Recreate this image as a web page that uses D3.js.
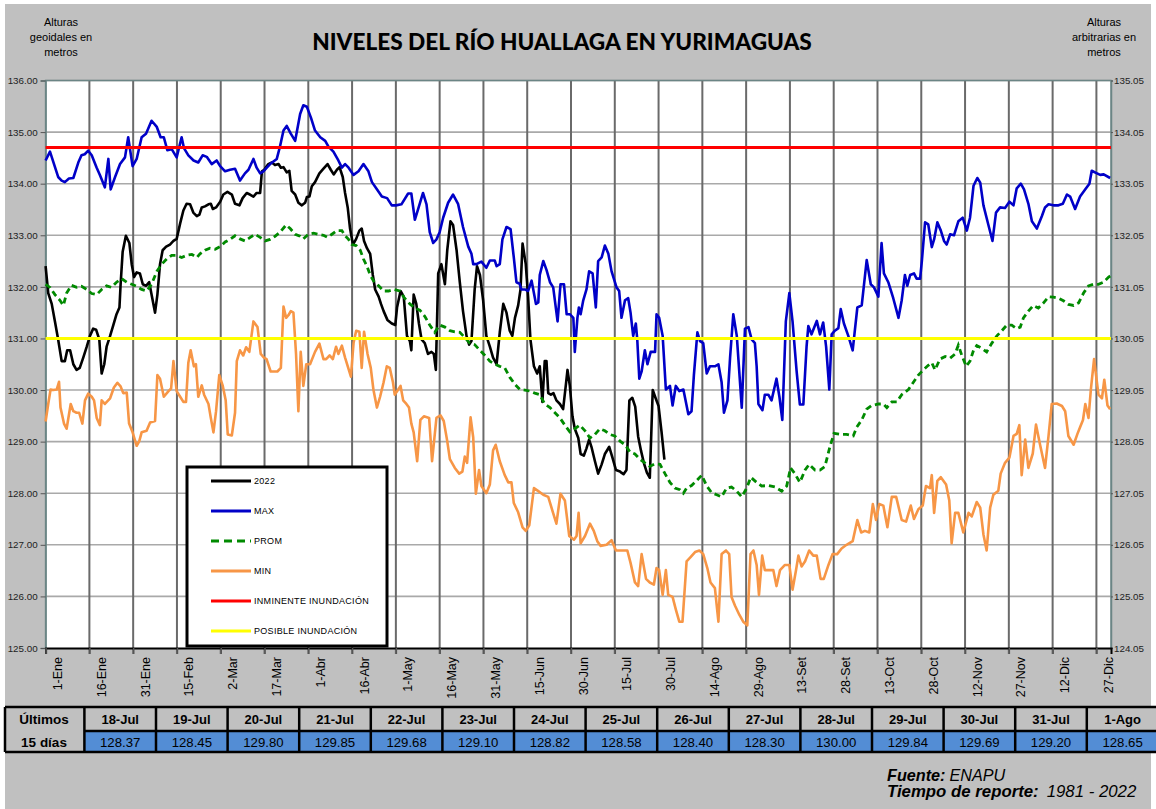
<!DOCTYPE html>
<html><head><meta charset="utf-8">
<script src="https://cdn.jsdelivr.net/npm/d3@7"></script>
<style>
html,body{margin:0;padding:0;background:#fff;}
svg text{font-family:"Liberation Sans",Arial,sans-serif;}
</style></head>
<body>
<script>
// ---------------- DATA ----------------
const tickLabels = ["1-Ene","16-Ene","31-Ene","15-Feb","2-Mar","17-Mar","1-Abr","16-Abr","1-May","16-May","31-May","15-Jun","30-Jun","15-Jul","30-Jul","14-Ago","29-Ago","13-Set","28-Set","13-Oct","28-Oct","12-Nov","27-Nov","12-Dic","27-Dic"];
const tickDays = tickLabels.map((d,i)=>i*15);
const yTicksLeft = [125,126,127,128,129,130,131,132,133,134,135,136];
const yTicksRight = [124.05,125.05,126.05,127.05,128.05,129.05,130.05,131.05,132.05,133.05,134.05,135.05];
const inminente = 134.70;
const posible = 131.00;

const lastDates = ["18-Jul","19-Jul","20-Jul","21-Jul","22-Jul","23-Jul","24-Jul","25-Jul","26-Jul","27-Jul","28-Jul","29-Jul","30-Jul","31-Jul","1-Ago"];
const lastVals = [128.37,128.45,129.80,129.85,129.68,129.10,128.82,128.58,128.40,128.30,130.00,129.84,129.69,129.20,128.65];
const lastStartDay = 198;

// [day of year, level]
const obs2022 = [[0,132.4],[0.9,131.88],[2.1,131.67],[3.2,131.33],[4.3,130.98],[5.5,130.56],[6.6,130.56],[7.4,130.77],[8.4,130.77],[9.5,130.5],[10.6,130.39],[11.7,130.43],[12.9,130.63],[14.1,130.84],[15.2,131.05],[16.3,131.19],[17.3,131.17],[18.4,130.98],[19.2,130.32],[20.1,130.5],[20.9,130.84],[22.1,131.05],[23.2,131.26],[24.3,131.47],[25.3,131.6],[25.7,132.05],[26.4,132.68],[27.5,132.99],[28.7,132.85],[29.5,132.44],[30.3,132.19],[31.2,132.28],[32.3,132.26],[33.3,132.05],[34.4,132.02],[35.5,132.09],[36.3,131.85],[37.5,131.5],[38.3,131.85],[39.2,132.44],[40.1,132.71],[41.3,132.78],[42.6,132.82],[43.8,132.89],[44.9,132.93],[46.1,133.23],[47.2,133.48],[48.3,133.61],[49.5,133.6],[50.6,133.44],[51.8,133.37],[52.7,133.4],[53.5,133.54],[54.6,133.56],[55.8,133.6],[56.6,133.61],[57.3,133.51],[58.4,133.54],[59.8,133.65],[60.9,133.79],[62.3,133.84],[63.8,133.79],[64.9,133.61],[66.4,133.58],[67.5,133.72],[68.9,133.82],[70,133.79],[71.2,133.75],[72.3,133.82],[73.5,133.82],[74.1,134.24],[74.9,134.27],[76.3,134.38],[77.5,134.41],[78.6,134.36],[79.8,134.38],[80.6,134.31],[81.5,134.32],[82.6,134.22],[83.5,134.25],[84.3,133.86],[85.5,133.79],[86.6,133.63],[87.8,133.58],[88.9,133.63],[89.5,133.74],[90.4,133.75],[91.2,133.95],[92.3,134.03],[93.8,134.2],[95.2,134.29],[96.6,134.38],[97.7,134.27],[98.7,134.18],[99.8,134.27],[100.7,134.32],[101.8,134.13],[102.6,133.82],[103.5,133.54],[104.3,133.13],[105.3,132.82],[106.4,132.93],[107.5,133.09],[108.3,133.13],[109.1,132.89],[110.1,132.75],[111.2,132.64],[112.1,132.23],[112.9,131.95],[114.1,131.81],[114.9,131.67],[115.8,131.53],[117.1,131.36],[118.6,131.29],[119.8,131.26],[120.4,131.6],[121.6,131.92],[122.7,131.81],[123.8,131.05],[124.8,130.95],[125.3,130.77],[126.1,131.85],[127,131.67],[127.9,131.29],[128.8,130.98],[129.9,130.91],[131,130.7],[132.2,130.74],[133,130.7],[133.7,130.39],[134.5,132.26],[135.6,132.44],[136.8,132.05],[137.6,132.71],[138.7,133.27],[139.6,133.2],[140.8,132.71],[141.9,132.09],[143,131.53],[144.2,131.05],[145.1,130.88],[145.9,130.95],[147,131.95],[147.8,132.4],[148.8,132.23],[149.9,131.74],[151,131.05],[152.2,130.84],[153.3,130.63],[154.5,130.5],[155.6,131.12],[156.8,131.67],[157.9,131.5],[159,131.15],[159.9,131.05],[160.8,131.4],[161.9,131.64],[162.7,131.95],[163.4,132.84],[164.5,132.44],[165.3,131.81],[166.1,130.98],[167.3,130.46],[168.4,130.32],[169.3,130.46],[170.2,129.77],[171,130.56],[171.6,130.56],[172.2,129.94],[173.1,129.91],[174,129.94],[175,129.8],[176.2,129.73],[177.3,129.63],[178.2,130.08],[178.8,130.39],[179.6,130.08],[180.5,129.49],[181.3,129.25],[182.5,129.07],[183.3,128.76],[184.4,128.73],[185.3,128.87],[186.2,129.04],[187,128.9],[188.2,128.62],[189.3,128.38],[190.5,128.56],[191.6,128.76],[193.1,128.9],[194.2,128.69],[195.4,128.45],[196.8,128.42],[197,128.41]];

const maxSeries = [[0,134.45],[1.5,134.62],[4.3,134.13],[5.5,134.06],[6.6,134.03],[8,134.1],[9.5,134.11],[11.2,134.41],[12.3,134.55],[13.4,134.57],[14.6,134.64],[15.8,134.55],[17.5,134.31],[18.6,134.17],[20.3,133.93],[21.5,134.48],[22.3,133.89],[23.8,134.13],[25.5,134.38],[27.2,134.51],[28.3,134.9],[29.8,134.34],[31.2,134.48],[32.9,134.9],[34.4,134.97],[36.3,135.22],[38.1,135.1],[39.4,134.9],[40.5,134.9],[41.7,134.65],[43.2,134.67],[44.9,134.51],[46.6,134.9],[47.4,134.69],[48.9,134.55],[50.7,134.45],[52.3,134.41],[53.8,134.55],[55.2,134.52],[56.9,134.38],[58.6,134.45],[59.8,134.34],[61.5,134.24],[63.2,134.27],[64.9,134.29],[66.6,134.06],[68.3,134.2],[69.5,134.27],[71.2,134.48],[72.3,134.31],[73.5,134.2],[74.6,134.24],[76.9,134.38],[79.2,134.48],[80.3,134.72],[81.5,135.03],[82.6,135.12],[84,134.97],[85.5,134.83],[87.2,135.35],[88.3,135.52],[89.5,135.49],[90.9,135.28],[92.3,135.03],[94.1,134.9],[95.8,134.83],[96.9,134.72],[98.6,134.62],[100.3,134.45],[101.5,134.31],[102.6,134.38],[103.8,134.31],[105.5,134.17],[107.2,134.24],[108.9,134.38],[110.6,134.24],[111.8,134.03],[113.5,133.89],[115.2,133.75],[117,133.72],[118.6,133.58],[120,133.58],[121.9,133.6],[124.2,133.81],[125.3,133.81],[126.5,133.3],[127.6,133.5],[129.3,133.82],[130.5,133.6],[131.6,133.06],[132.8,132.85],[133.9,132.92],[135,133.06],[136.2,133.34],[137.9,133.63],[139.6,133.79],[141.3,133.61],[143,133.16],[144.8,132.78],[145.9,132.64],[146.5,132.44],[147.6,132.44],[149.3,132.49],[151,132.37],[152.2,132.51],[153.9,132.51],[154.5,132.4],[155.6,132.44],[156.5,132.92],[157.9,133.16],[159.3,133.12],[160.4,132.57],[161.3,132.09],[162.4,132.06],[163,131.95],[164.2,131.95],[165.3,131.92],[166.5,132.12],[168,131.67],[168.8,131.7],[169.3,132.23],[170.5,132.5],[171.6,132.33],[172.8,132.09],[173.9,131.99],[175.4,131.33],[176.4,132.05],[177.6,132.05],[178.5,131.47],[179.6,131.47],[180.8,131.4],[181.3,130.74],[182.2,131.4],[182.7,131.6],[183.3,131.47],[184.2,131.74],[185.3,131.95],[186.2,132.3],[187.4,132.26],[188.5,131.6],[189.3,132.5],[190.5,132.57],[191.6,132.8],[192.8,132.64],[193.9,132.3],[195.6,131.99],[196.5,131.92],[197.3,131.4],[198.5,131.74],[199.6,131.78],[200.4,131.5],[201.3,131.05],[202.2,131.29],[202.7,130.98],[203.4,130.22],[204.2,130.36],[205.3,130.77],[206.2,130.5],[207.3,130.74],[208.8,130.74],[209.3,131.47],[210.2,131.4],[211.4,131.05],[212.5,130.01],[213.9,130.08],[214.8,129.7],[215.9,130.08],[217.1,129.98],[218.5,130.01],[220.2,129.53],[221.3,129.59],[222.1,130.29],[223.3,131.12],[224.2,130.95],[225.3,130.91],[226.5,130.32],[227.6,130.46],[229.3,130.46],[230.5,130.5],[231.6,130.15],[232.4,129.56],[233.6,129.8],[234.5,130.63],[235.6,131.47],[236.8,131.05],[238.5,129.66],[239.6,131.19],[240.8,131.22],[241.9,130.98],[243,130.91],[243.6,130.46],[244.2,129.73],[245.6,129.61],[246.4,129.91],[247.6,129.91],[248.7,129.8],[250.4,130.22],[251.4,129.87],[252.4,129.42],[253.6,131.33],[254.8,131.88],[255.9,131.33],[257.3,130.36],[258.4,129.72],[259.6,129.72],[260.7,130.84],[261.3,131.24],[262.4,131.08],[264.2,131.34],[265.3,131.08],[266.4,131.31],[267.4,130.84],[268.5,130.01],[269.3,131.08],[270.4,131.15],[271.6,131.2],[272.4,131.57],[273.5,131.29],[275,131.05],[276.5,130.77],[278.1,131.6],[279.6,131.64],[281.3,132.52],[282.7,132.05],[283.8,131.99],[285.3,131.81],[286.4,132.85],[287.2,132.26],[288.7,132.09],[290.4,131.78],[292.2,131.4],[293.3,131.74],[294.4,132.23],[295.2,132.02],[296.2,132.23],[297.5,132.26],[298.4,132.16],[299.6,132.16],[300.2,132.5],[301.3,133.25],[302.4,133.21],[303.6,132.77],[304.4,132.92],[305.5,133.25],[306.7,133.09],[307.8,132.89],[308.7,132.82],[309.9,133.02],[311.2,133],[312.7,133.27],[314.2,133.34],[315.6,133.09],[316.7,133.34],[317.9,133.96],[319.2,134.11],[320.2,134.02],[321.3,133.58],[323,133.2],[324.4,132.89],[325.6,133.44],[327,133.54],[328.7,133.53],[330.2,133.65],[331.6,133.58],[332.7,133.91],[334.1,134],[335.2,133.89],[336.7,133.61],[337.9,133.27],[339.6,133.13],[341.3,133.37],[342.4,133.54],[343.6,133.6],[345.3,133.58],[347,133.58],[348.5,133.61],[349.9,133.79],[351,133.75],[352.7,133.51],[354.4,133.75],[356.2,133.89],[357.6,134.0],[358.4,134.25],[360.2,134.2],[361.3,134.17],[362.5,134.18],[364.7,134.11]];

const promSeries = [[0,132.05],[1.5,131.99],[3.2,131.85],[4.9,131.74],[6.1,131.64],[7.2,131.88],[8.9,132.03],[10.6,131.99],[12.3,132.01],[14.1,131.95],[15.8,131.87],[17.5,131.85],[19.2,131.95],[20.9,132.02],[22.6,131.99],[24.3,132.09],[26,132.16],[27.8,132.09],[29.5,132.05],[31.2,132.01],[32.9,131.95],[34.6,131.92],[36.3,132.05],[38.1,132.3],[39.8,132.44],[41.5,132.54],[43.2,132.61],[44.9,132.61],[46.6,132.57],[48.3,132.61],[50.1,132.63],[51.8,132.57],[52.9,132.64],[54.6,132.71],[56.3,132.75],[58.1,132.73],[59.8,132.78],[61.5,132.87],[63.2,132.92],[64.9,132.99],[66.6,132.93],[68.3,132.89],[70.1,132.96],[71.8,133.02],[73.5,132.96],[75.2,132.89],[76.9,132.92],[78.6,132.98],[80.3,133.06],[82.4,133.2],[83.8,133.13],[85.5,133.02],[87.2,132.98],[88.3,132.93],[90,133.02],[91.8,133.04],[93.5,133.02],[95.2,133],[96.6,132.96],[98.1,133.02],[99.8,133.09],[101.5,133.09],[102.6,132.99],[103.8,132.92],[104.9,132.82],[106.4,132.8],[107.8,132.71],[108.9,132.54],[110.1,132.4],[111.2,132.23],[112.3,132.12],[114.1,132.02],[115.8,131.92],[117.5,131.92],[119.4,131.95],[121.3,131.92],[123,131.78],[124.8,131.67],[126.5,131.59],[128.2,131.55],[129.9,131.43],[131.6,131.26],[133.3,131.12],[135,131.26],[136.8,131.22],[138.5,131.15],[140.2,131.13],[141.9,131.12],[143.6,131.02],[145.3,130.91],[147,130.88],[148.8,130.77],[150.5,130.67],[152.2,130.56],[153.9,130.5],[155.6,130.46],[157.3,130.43],[159,130.25],[160.8,130.11],[162.5,130.01],[164.2,130],[165.9,129.98],[167.6,129.94],[169.3,129.91],[171,129.73],[172.8,129.66],[174.5,129.56],[176.2,129.46],[177.9,129.32],[179.6,129.19],[181.3,129.25],[183,129.32],[184.8,129.21],[186.5,129.07],[188.2,129.14],[189.9,129.25],[191.6,129.21],[193.3,129.14],[195,129.11],[196.8,129.01],[198.5,128.94],[200.2,128.8],[201.9,128.76],[203.6,128.66],[205.3,128.59],[207,128.52],[208.8,128.57],[210.5,128.56],[212.2,128.38],[213.9,128.21],[215.6,128.1],[217.3,128.07],[218.5,128.0],[219.6,128.1],[221.3,128.15],[223,128.24],[224.8,128.35],[226.5,128.14],[228.2,128.01],[229.9,127.97],[231.6,127.93],[233.3,128.1],[235,128.12],[236.8,128.04],[238.5,127.93],[240.2,128.1],[241.6,128.31],[243.6,128.21],[245.3,128.14],[247.6,128.15],[249.9,128.12],[252.2,128.04],[253.9,128.14],[255.2,128.49],[256.7,128.38],[258.4,128.21],[260.2,128.45],[261.6,128.56],[263.6,128.45],[265.3,128.45],[267,128.52],[268.7,128.9],[270.1,129.16],[272.2,129.14],[274.4,129.14],[276.7,129.11],[277.9,129.28],[279.6,129.42],[281.3,129.63],[283,129.7],[285.3,129.73],[287,129.73],[288.2,129.66],[289.9,129.77],[291.6,129.77],[293.3,129.91],[295.6,130.01],[297.3,130.15],[299,130.29],[300.7,130.39],[302.4,130.48],[303.6,130.53],[304.7,130.39],[306.4,130.6],[308.2,130.65],[309.9,130.62],[311.6,130.7],[312.7,130.87],[313.9,130.67],[315.4,130.46],[316.7,130.56],[317.9,130.77],[319,130.86],[320.7,130.81],[322.4,130.74],[324.2,130.91],[325.9,131.05],[327.6,131.15],[329.3,131.26],[331,131.26],[332.7,131.19],[333.9,131.22],[335,131.4],[336.7,131.53],[338.4,131.64],[340.1,131.59],[341.9,131.69],[343.6,131.81],[345.3,131.8],[347,131.78],[348.7,131.73],[350.4,131.66],[352.2,131.64],[353.9,131.69],[355.6,131.88],[357.3,132.02],[359,132.05],[360.7,132.05],[362.4,132.09],[364.2,132.19],[365,132.22]];

const minSeries = [[0,129.39],[0.9,129.73],[1.7,130.01],[2.6,130.0],[3.8,130.01],[4.6,130.16],[5.1,129.66],[6.3,129.35],[7.2,129.25],[8.6,129.73],[9.5,129.59],[10.6,129.56],[11.5,129.56],[12.6,129.35],[13.5,129.8],[14.6,129.93],[15.8,129.87],[16.6,129.8],[17.5,129.46],[18.6,129.32],[19.2,129.8],[20.3,129.73],[22.1,129.84],[23.4,130.05],[24.6,130.14],[25.7,130.07],[26.6,129.94],[27.8,129.95],[28.6,129.35],[29.8,129.18],[31.2,128.92],[32.1,129.01],[32.9,129.18],[34.6,129.21],[35.8,129.37],[37.5,129.4],[38.3,130.29],[39.2,130.22],[40.5,129.87],[42.1,129.98],[43,130.03],[43.8,130.56],[44.9,129.98],[46.1,129.87],[47.2,129.77],[48.1,129.77],[48.9,130.53],[49.7,130.77],[50.8,130.46],[51.5,130.5],[52.3,129.87],[53.5,130.09],[54.3,129.91],[55.8,129.73],[56.6,129.46],[57.5,129.18],[58.4,129.59],[59.5,130.29],[60.7,130.08],[61.7,129.8],[62.4,129.14],[63.8,129.12],[64.9,129.56],[65.5,130.56],[66.6,130.77],[67.7,130.67],[68.7,130.83],[69.8,130.74],[71.2,131.33],[72.6,131.22],[73.7,130.7],[74.8,130.63],[75.7,130.6],[77.1,130.36],[79.4,130.36],[80.6,130.43],[81.5,131.62],[82.4,131.4],[83.2,131.45],[84,131.53],[84.9,131.5],[85.8,130.7],[86.6,129.59],[87.4,130.74],[88.3,130.08],[89.3,130.5],[90.6,130.5],[92.3,130.74],[93.8,130.9],[95.2,130.6],[96.1,130.6],[97.3,130.67],[98.4,130.6],[99.5,130.84],[100.3,130.7],[101.5,130.86],[102.6,130.63],[104.6,130.26],[105.5,130.91],[106.4,131.15],[107.5,131.13],[108.3,130.43],[109.1,131.13],[110.3,130.7],[111.4,130.43],[112.3,130.01],[113.5,129.66],[114.6,129.87],[115.8,130.15],[116.9,130.46],[117.9,130.43],[119,130.15],[119.6,129.91],[120.7,130.0],[121.6,130.08],[122.5,129.8],[123.6,129.73],[124.5,129.66],[125.3,129.35],[126.1,129.18],[127.3,128.62],[128.4,129.42],[129.6,129.49],[131.4,129.46],[132.4,128.62],[133.9,129.46],[135.3,129.51],[136.4,129.4],[137.6,129.01],[138.5,128.66],[140.2,128.49],[141.7,128.38],[142.8,128.42],[143.6,128.71],[144.4,128.59],[145.6,129.47],[146.5,129.08],[147.4,127.99],[148.5,128.45],[149.3,128.14],[151,128],[152.2,128.17],[153.3,128.83],[154.2,128.94],[155.6,128.62],[157.3,128.35],[158.5,128.21],[159.6,128.21],[160.4,127.81],[161.9,127.63],[163.4,127.34],[164.5,127.27],[165.7,127.38],[167.3,128.1],[168.8,128.04],[170.5,127.97],[172.2,127.93],[173.7,127.65],[175,127.41],[176.4,127.99],[177.9,127.86],[179.4,127.17],[181,127.1],[181.9,127.17],[182.6,127.62],[183.3,127.03],[184.8,127.17],[186.5,127.41],[187.8,127.27],[189,127.07],[190.1,126.98],[192.2,127.0],[193.9,127.09],[195.4,126.89],[197.3,126.89],[199.3,126.89],[200.4,126.65],[201.9,126.27],[203,126.2],[204.2,126.82],[205.7,126.34],[207,126.27],[208.4,126.23],[209.3,126.55],[210.2,126.51],[211.4,126.03],[212.5,126.51],[213.3,126.03],[214.8,125.99],[215.9,125.75],[217.1,125.51],[218.2,125.51],[219.6,126.68],[220.8,126.75],[222.5,126.86],[224,126.89],[225.3,126.82],[226.7,126.55],[227.8,126.27],[229.3,126.16],[230.5,125.51],[231.6,126.82],[233.1,126.89],[234.2,126.82],[235,125.99],[236.2,125.82],[237.7,125.64],[239,125.51],[240.4,125.44],[241.5,126.82],[242.5,126.89],[243.6,126.61],[244.4,126.03],[245.5,126.79],[246.4,126.51],[248.2,126.51],[249.3,126.51],[250.4,126.2],[251.6,126.51],[253.3,126.61],[254.8,126.61],[255.9,126.13],[257.1,126.51],[257.9,126.79],[259,126.58],[260.2,126.68],[261.6,126.89],[263,126.79],[264.2,126.79],[265.5,126.34],[266.6,126.34],[268.2,126.61],[269.6,126.82],[271.2,126.82],[272.7,126.93],[274.4,127.0],[276.5,127.07],[278.1,127.48],[279.4,127.24],[280.7,127.27],[282.2,127.24],[283.4,127.79],[284.5,127.48],[285.6,127.79],[287,127.76],[288.4,127.34],[289.9,127.93],[291.4,127.93],[293.3,127.48],[294.8,127.45],[296.4,127.76],[297.5,127.5],[299,127.69],[300.5,127.76],[301.6,128.14],[303,128.1],[303.6,128.35],[304.4,127.62],[305.5,128.24],[306.7,128.31],[308.5,128.17],[309.6,127.86],[310.4,127.03],[311.6,127.62],[312.7,127.62],[314.4,127.24],[316.2,127.62],[317.3,127.55],[319,127.83],[320.2,127.72],[321.3,127.2],[322.4,126.89],[323.6,127.72],[324.7,127.97],[326.4,128.05],[327.2,128.38],[328.7,128.59],[330.2,128.69],[331.6,129.11],[332.7,129.15],[333.6,129.32],[334.4,128.35],[335.6,129.04],[336.7,128.49],[338.2,128.77],[339.3,129.33],[340.7,128.94],[342.4,128.49],[343.6,129.11],[344.7,129.73],[346.4,129.74],[348.2,129.69],[349.3,129.59],[350.4,129.11],[352.2,128.94],[353.5,129.15],[354.4,129.28],[355.4,129.42],[356.2,129.73],[357.3,129.46],[358.1,130.01],[359.2,130.6],[360.7,129.91],[361.9,129.84],[362.7,130.2],[363.8,129.7],[364.7,129.63]];

const legendItems = [
  {label:"2022", color:"#000000", dash:null},
  {label:"MAX", color:"#0000c8", dash:null},
  {label:"PROM", color:"#008a00", dash:"8,5"},
  {label:"MIN", color:"#f79646", dash:null},
  {label:"INMINENTE INUNDACIÓN", color:"#ff0000", dash:null},
  {label:"POSIBLE INUNDACIÓN", color:"#ffff00", dash:null}
];

// ---------------- DRAW ----------------
const W = 1156, H = 809;
const svg = d3.select("body").append("svg").attr("width", W).attr("height", H);
svg.append("rect").attr("x",5).attr("y",4).attr("width",1146).attr("height",805).attr("fill","#c0c0c0");

const x0 = 45.6, x1 = 1111, yTop = 80.5, yBot = 648;
const x = d3.scaleLinear().domain([0,365]).range([x0,x1]);
const y = d3.scaleLinear().domain([125,136]).range([yBot,yTop]);
const yR = d3.scaleLinear().domain([124.05,135.05]).range([yBot,yTop]);

svg.append("rect").attr("x",x0).attr("y",yTop).attr("width",x1-x0).attr("height",yBot-yTop).attr("fill","#fff");

// horizontal gridlines
svg.append("g").selectAll("line").data(yTicksLeft.slice(1)).join("line")
  .attr("x1",x0).attr("x2",x1).attr("y1",d=>y(d)).attr("y2",d=>y(d))
  .attr("stroke","#a9a9a9").attr("stroke-width",1.6);
// vertical gridlines
svg.append("g").selectAll("line").data(tickDays.slice(1)).join("line")
  .attr("x1",d=>x(d)).attr("x2",d=>x(d)).attr("y1",yTop).attr("y2",yBot+6)
  .attr("stroke","#6a6a6a").attr("stroke-width",2);

// border
svg.append("path").attr("d",`M${x0},${yBot}V${yTop}H${x1}V${yBot}`).attr("fill","none").attr("stroke","#6b8585").attr("stroke-width",1.5);

// left axis
const gL = svg.append("g").attr("transform",`translate(${x0},0)`)
  .call(d3.axisLeft(y).tickValues(yTicksLeft).tickFormat(d3.format(".2f")).tickSize(5).tickPadding(3));
gL.select(".domain").attr("stroke","#6b8585").attr("stroke-width",1.5);
gL.selectAll(".tick line").attr("stroke","#555");
gL.selectAll("text").attr("font-size",9.8).attr("fill","#222");

// right axis
const gR = svg.append("g").attr("transform",`translate(${x1},0)`)
  .call(d3.axisRight(yR).tickValues(yTicksRight).tickFormat(d3.format(".2f")).tickSize(2).tickPadding(1));
gR.select(".domain").attr("stroke","#6b8585").attr("stroke-width",1.5);
gR.selectAll(".tick line").attr("stroke","#555");
gR.selectAll("text").attr("font-size",9.8).attr("fill","#222");

// bottom axis
const gB = svg.append("g").attr("transform",`translate(0,${yBot})`)
  .call(d3.axisBottom(x).tickValues(tickDays).tickFormat((d,i)=>tickLabels[i]).tickSize(6));
gB.select(".domain").attr("stroke","#000").attr("stroke-width",2);
gB.selectAll(".tick line").attr("stroke","#555").attr("stroke-width",1.5);
gB.selectAll("text").attr("font-size",12.5).attr("fill","#000")
  .attr("text-anchor","end").attr("dy",null).attr("y",null)
  .attr("transform","translate(16,9) rotate(-90)");

// series
const line = d3.line().x(d=>x(d[0])).y(d=>y(d[1]));
const series2022 = obs2022.concat(lastVals.map((v,i)=>[lastStartDay+i, v]));
const gS = svg.append("g");
gS.append("path").datum(series2022).attr("d",line).attr("fill","none").attr("stroke","#000").attr("stroke-width",2.6).attr("stroke-linejoin","round");
gS.append("path").datum(maxSeries).attr("d",line).attr("fill","none").attr("stroke","#0000c8").attr("stroke-width",2.6).attr("stroke-linejoin","round");
gS.append("path").datum(promSeries).attr("d",line).attr("fill","none").attr("stroke","#008a00").attr("stroke-width",2.8).attr("stroke-dasharray","6,4");
gS.append("path").datum(minSeries).attr("d",line).attr("fill","none").attr("stroke","#f79646").attr("stroke-width",2.6).attr("stroke-linejoin","round");
gS.append("line").attr("x1",x(0)).attr("x2",x(365)).attr("y1",y(inminente)).attr("y2",y(inminente)).attr("stroke","#ff0000").attr("stroke-width",3);
gS.append("line").attr("x1",x(0)).attr("x2",x(365)).attr("y1",y(posible)).attr("y2",y(posible)).attr("stroke","#ffff00").attr("stroke-width",3);

// legend
const lg = svg.append("g");
lg.append("rect").attr("x",187).attr("y",467).attr("width",200).attr("height",179).attr("fill","#fff").attr("stroke","#000").attr("stroke-width",3);
legendItems.forEach((it,i)=>{
  const yy = 481 + i*30;
  lg.append("line").attr("x1",211).attr("x2",251).attr("y1",yy).attr("y2",yy)
    .attr("stroke",it.color).attr("stroke-width",3).attr("stroke-dasharray",it.dash);
  lg.append("text").attr("x",254).attr("y",yy+3.3).attr("font-size",9).attr("letter-spacing",0.3).attr("fill","#000").text(it.label);
});

// title & side headers
const title = svg.append("text").attr("x",562).attr("y",50).attr("text-anchor","middle")
  .style("font-family","Lato, 'Open Sans', sans-serif").style("font-weight","900").attr("font-size",21)
  .attr("fill","#000").text("NIVELES DEL RÍO HUALLAGA EN YURIMAGUAS");
const tw = title.node().getComputedTextLength();
title.attr("font-size", 21*500/tw);

const hdrL = ["Alturas","geoidales en","metros"];
const hdrR = ["Alturas","arbitrarias en","metros"];
hdrL.forEach((t,i)=>svg.append("text").attr("x",61).attr("y",26+i*15).attr("text-anchor","middle").attr("font-size",11).attr("fill","#000").text(t));
hdrR.forEach((t,i)=>svg.append("text").attr("x",1104).attr("y",26+i*15).attr("text-anchor","middle").attr("font-size",11).attr("fill","#000").text(t));

// table
const tb = svg.append("g");
const colX = d3.scaleBand().domain(lastDates).range([84.4, 84.4+15*71.6]);
const rTop = 707, rMid = 731, rBot = 752;
lastDates.forEach((d,i)=>{
  const cx = colX(d), cw = colX.bandwidth();
  tb.append("rect").attr("x",cx).attr("y",rTop).attr("width",cw).attr("height",rMid-rTop).attr("fill","#c0c0c0");
  tb.append("rect").attr("x",cx).attr("y",rMid).attr("width",cw).attr("height",rBot-rMid).attr("fill","#538dd5");
  tb.append("text").attr("x",cx+cw/2).attr("y",rTop+17).attr("text-anchor","middle").attr("font-size",13).attr("font-weight","bold").attr("fill","#000").text(d);
  tb.append("text").attr("x",cx+cw/2).attr("y",rMid+16).attr("text-anchor","middle").attr("font-size",13.2).attr("fill","#000").text(d3.format(".2f")(lastVals[i]));
});
// borders
const gridPath = [];
gridPath.push(`M5,${rTop}H1158`, `M84.4,${rMid}H1158`, `M5,${rBot}H1158`, `M5,${rTop}V${rBot}`);
lastDates.forEach(d=>gridPath.push(`M${colX(d)},${rTop}V${rBot}`));
tb.append("path").attr("d",gridPath.join("")).attr("stroke","#000").attr("stroke-width",2.5).attr("fill","none");
tb.append("text").attr("x",44).attr("y",rTop+17).attr("text-anchor","middle").attr("font-size",13.5).attr("font-weight","bold").text("Últimos");
tb.append("text").attr("x",44).attr("y",rMid+16).attr("text-anchor","middle").attr("font-size",13.5).attr("font-weight","bold").text("15 días");

// source
const s1 = svg.append("text").attr("x",887).attr("y",781).attr("font-size",16.2).attr("font-style","italic");
s1.append("tspan").attr("font-weight","bold").text("Fuente:");
s1.append("tspan").attr("dx",4).text("ENAPU");
const s2 = svg.append("text").attr("x",887).attr("y",797).attr("font-size",16.8).attr("font-style","italic");
s2.append("tspan").attr("font-weight","bold").text("Tiempo de reporte:");
s2.append("tspan").attr("dx",8).text("1981 - 2022");
</script>
</body></html>
